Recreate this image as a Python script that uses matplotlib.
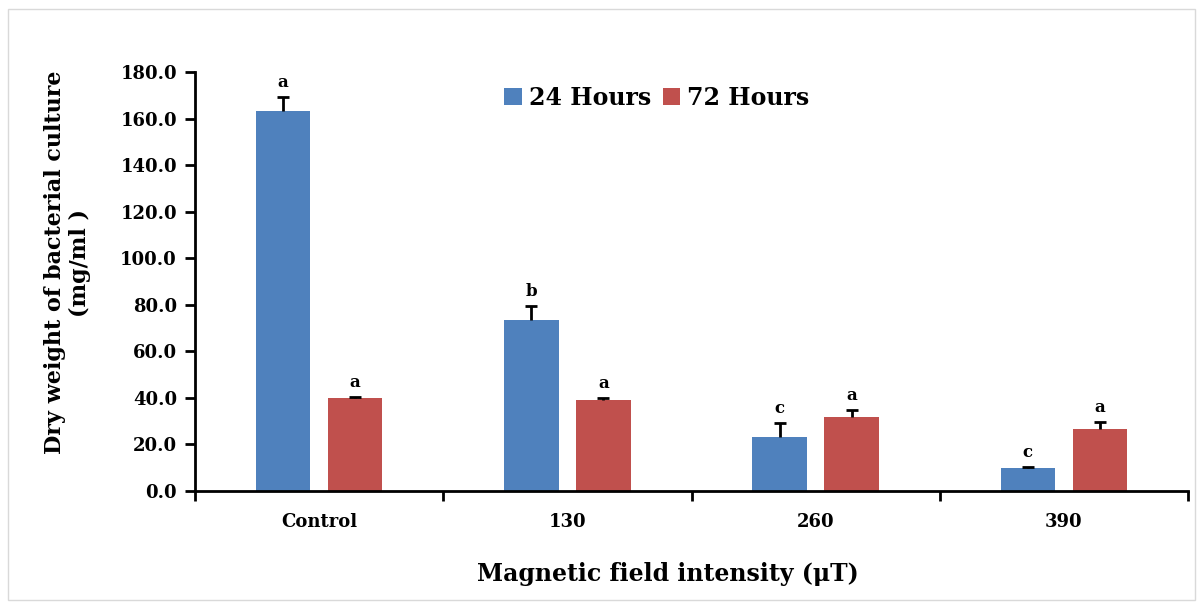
import numpy as np
import matplotlib.pyplot as plt
from matplotlib.patches import Rectangle

# Data
categories = ['Control', '130', '260', '390']
hours24 = [163.2, 73.5, 23.2, 9.9]
hours72 = [40.0, 39.1, 31.8, 26.6]
err24 = [6.0, 6.0, 6.0, 0.3]
err72 = [0.5, 1.0, 3.0, 3.0]
letters24 = ['a', 'b', 'c', 'c']
letters72 = ['a', 'a', 'a', 'a']

plt.rcParams['font.family'] = ['DejaVu Serif']
plt.rcParams['font.weight'] = 'bold'

fig = plt.figure(figsize=(11.99, 6.09), dpi=100)
# light frame round the chart area
fig.patches.append(Rectangle((8 / 1199, 9 / 609), 1187 / 1199, 591 / 609,
                             transform=fig.transFigure, fill=False,
                             edgecolor='#d9d9d9', linewidth=1))

ax = fig.add_axes([195 / 1199, 1 - 491 / 609, 993 / 1199, 419 / 609])

x = np.arange(len(categories))
w = 0.22
off = 0.145
blue = '#4f81bd'
red = '#c0504d'

ax.bar(x - off, hours24, w, color=blue, label='24 Hours', zorder=2)
ax.bar(x + off, hours72, w, color=red, label='72 Hours', zorder=2)

# plus-only error bars: stem and a single cap on top
for xs, vals, errs in [(x - off, hours24, err24), (x + off, hours72, err72)]:
    tops = np.array(vals) + np.array(errs)
    ax.vlines(xs, vals, tops, color='black', linewidth=2, zorder=3)
    ax.plot(xs, tops, linestyle='none', marker='_', markersize=9,
            markeredgewidth=2, color='black', zorder=3)

for i in range(len(categories)):
    ax.text(x[i] - off, hours24[i] + err24[i] + 2.5, letters24[i],
            ha='center', va='bottom', fontsize=12, fontweight='bold')
    ax.text(x[i] + off, hours72[i] + err72[i] + 2.5, letters72[i],
            ha='center', va='bottom', fontsize=12, fontweight='bold')

ax.set_xlim(-0.5, len(categories) - 0.5)
ax.set_ylim(0, 180)
ax.set_yticks(np.arange(0, 181, 20))
ax.set_yticklabels(['%.1f' % v for v in np.arange(0, 181, 20)],
                   fontsize=13, fontweight='bold')
ax.set_xticks(x)
ax.set_xticklabels(categories, fontsize=13, fontweight='bold')
ax.set_xticks(np.arange(-0.5, len(categories)), minor=True)
ax.tick_params(axis='x', which='major', length=0, pad=16)
ax.tick_params(axis='x', which='minor', length=7, width=2)
ax.tick_params(axis='y', length=7, width=2, pad=6)

for s in ['top', 'right']:
    ax.spines[s].set_visible(False)
for s in ['left', 'bottom']:
    ax.spines[s].set_linewidth(2)

ax.set_ylabel('Dry weight of bacterial culture\n(mg/ml )', fontsize=16,
              fontweight='bold', linespacing=1.15)
ax.yaxis.set_label_coords(-0.105, 0.545)
ax.set_xlabel('Magnetic field intensity (μT)', fontsize=17,
              fontweight='bold')
ax.xaxis.set_label_coords(0.476, -0.169)

ax.legend(loc='center', bbox_to_anchor=(0.465, 0.938), ncol=2,
          frameon=False, handlelength=0.75, handleheight=0.75,
          handletextpad=0.3, columnspacing=0.5,
          prop={'weight': 'bold', 'size': 17})

fig.savefig('out.png', dpi=100)
